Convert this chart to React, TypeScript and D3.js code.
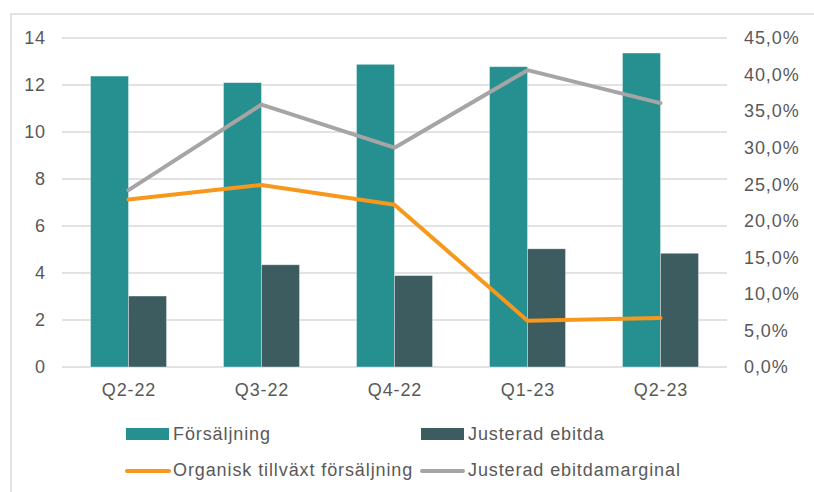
import React from "react";
import * as d3 from "d3";

const categories = ["Q2-22", "Q3-22", "Q4-22", "Q1-23", "Q2-23"];
const forsaljning = [12.38, 12.1, 12.88, 12.78, 13.36];
const justeradEbitda = [3.02, 4.35, 3.89, 5.03, 4.84];
const organiskTillvaxt = [22.9, 24.9, 22.2, 6.33, 6.7];
const ebitdamarginal = [24.2, 35.9, 30.0, 40.6, 36.1];
const leftTicks = [0, 2, 4, 6, 8, 10, 12, 14];
const rightTicks = [0, 5, 10, 15, 20, 25, 30, 35, 40, 45];

const barSeries = ["Försäljning", "Justerad ebitda"];
const barColors = ["#268F90", "#3C5C60"];
const orange = "#F7981D";
const gray = "#A6A4A4";
const textColor = "#595959";
const font = "'Liberation Sans', Arial, sans-serif";
const fontSize = 18;
const spacing = 0.9;

const W = 814;
const H = 492;
const left = 62;
const right = 727;
const top = 38;
const bottom = 367;

export default function App() {
  const x = d3.scaleBand<string>().domain(categories).range([left, right]).padding(0);
  const sub = d3
    .scaleBand<string>()
    .domain(barSeries)
    .range([0, x.bandwidth()])
    .paddingInner(0)
    .paddingOuter(0.75);
  const yL = d3.scaleLinear().domain([0, 14]).range([bottom, top]);
  const yR = d3.scaleLinear().domain([0, 45]).range([bottom, top]);
  const cx = (c: string) => (x(c) ?? 0) + x.bandwidth() / 2;

  const lineGen = d3
    .line<number>()
    .x((_, i) => cx(categories[i]))
    .y((d) => yR(d));

  const fmtPct = (v: number) => v.toFixed(1).replace(".", ",") + "%";
  const barData = [forsaljning, justeradEbitda];

  return (
    <svg
      width={W}
      height={H}
      style={{ position: "absolute", left: 0, top: 0, display: "block", background: "#fff" }}
      fontFamily={font}
    >
      <rect x={11} y={14} width={900} height={600} fill="#fff" stroke="#D9D9D9" strokeWidth={1.5} />

      {leftTicks.map((t) => (
        <line key={t} x1={left} x2={right} y1={yL(t)} y2={yL(t)} stroke="#D9D9D9" strokeWidth={1.3} />
      ))}

      {barSeries.map((s, si) =>
        categories.map((c, i) => {
          const v = barData[si][i];
          return (
            <rect
              key={s + c}
              x={(x(c) ?? 0) + (sub(s) ?? 0)}
              y={yL(v)}
              width={sub.bandwidth()}
              height={yL(0) - yL(v)}
              fill={barColors[si]}
              stroke="#ffffff"
              strokeOpacity={0.45}
              strokeWidth={0.8}
            />
          );
        })
      )}

      <path d={lineGen(ebitdamarginal) ?? ""} fill="none" stroke={gray} strokeWidth={4} strokeLinejoin="round" strokeLinecap="round" />
      <path d={lineGen(organiskTillvaxt) ?? ""} fill="none" stroke={orange} strokeWidth={4} strokeLinejoin="round" strokeLinecap="round" />

      <g fontSize={fontSize} fill={textColor} letterSpacing={spacing}>
        {leftTicks.map((t) => (
          <text key={t} x={46} y={yL(t)} dy="0.35em" textAnchor="end">
            {t}
          </text>
        ))}
        {rightTicks.map((t) => (
          <text key={t} x={744} y={yR(t)} dy="0.35em" textAnchor="start">
            {fmtPct(t)}
          </text>
        ))}
        {categories.map((c) => (
          <text key={c} x={cx(c) + 0.5} y={390} dy="0.35em" textAnchor="middle">
            {c}
          </text>
        ))}

        {/* legend */}
        <rect x={126} y={428} width={43} height={12} fill={barColors[0]} />
        <text x={173} y={434} dy="0.35em">Försäljning</text>
        <rect x={421} y={428} width={43} height={12} fill={barColors[1]} />
        <text x={468} y={434} dy="0.35em">Justerad ebitda</text>
        <line x1={127} x2={169} y1={471} y2={471} stroke={orange} strokeWidth={4} strokeLinecap="round" />
        <text x={173} y={470} dy="0.35em">Organisk tillväxt försäljning</text>
        <line x1={422} x2={463} y1={471} y2={471} stroke={gray} strokeWidth={4} strokeLinecap="round" />
        <text x={468} y={470} dy="0.35em">Justerad ebitdamarginal</text>
      </g>
    </svg>
  );
}
